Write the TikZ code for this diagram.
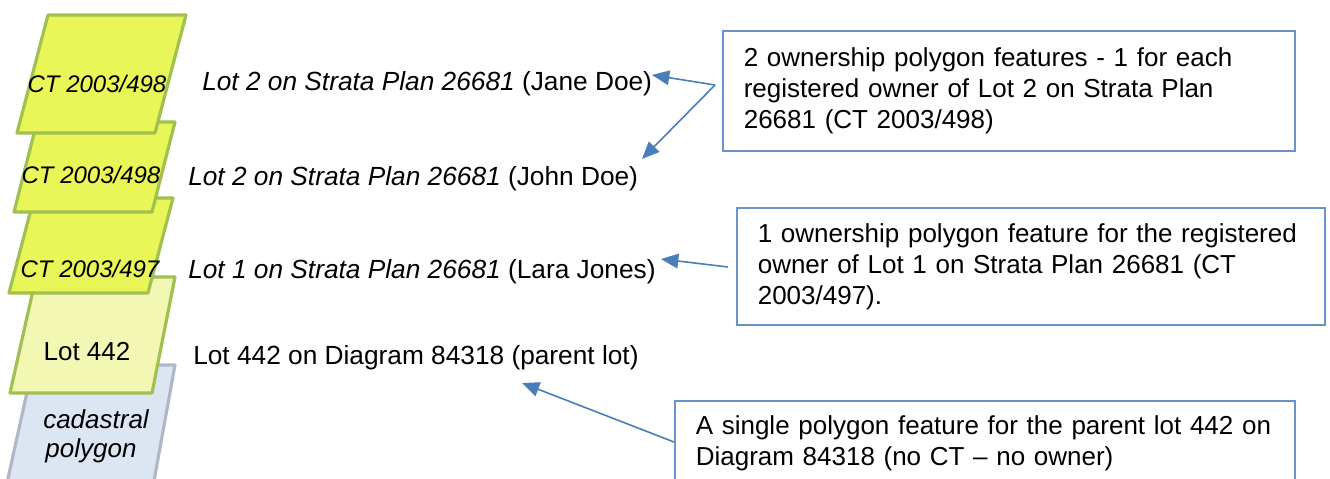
\documentclass[tikz,border=0pt]{standalone}
\usepackage{fontspec}
\setmainfont{Liberation Sans}
\usetikzlibrary{arrows.meta}
\definecolor{ctfill}{RGB}{232,246,88}
\definecolor{ctline}{RGB}{160,192,80}
\definecolor{lotfill}{RGB}{242,248,180}
\definecolor{cadfill}{RGB}{220,230,242}
\definecolor{cadline}{RGB}{176,184,200}
\definecolor{boxline}{RGB}{108,146,200}
\definecolor{arrowblue}{RGB}{74,126,187}
\tikzset{
  ctpoly/.style={fill=ctfill, draw=ctline, line width=2.4pt, line join=round},
  lotpoly/.style={fill=lotfill, draw=ctline, line width=2.4pt, line join=round},
  cadpoly/.style={fill=cadfill, draw=cadline, line width=2.4pt, line join=round},
  lbl/.style={font=\fontsize{19.7}{23.4}\selectfont, inner sep=0pt, anchor=base west},
  plbl/.style={font=\fontsize{18}{21.6}\selectfont\itshape, inner sep=0pt, anchor=base},
  infobox/.style={draw=boxline, line width=1.2pt, fill=white, anchor=north west,
     font=\fontsize{19.5}{23.25}\selectfont, align=left, inner xsep=15pt, inner ysep=0pt},
  pointer/.style={draw=arrowblue, line width=1.2pt, -{Triangle[length=13pt, width=11pt]}}
}
\begin{document}
\begin{tikzpicture}[x=0.75pt, y=-0.75pt]
\useasboundingbox (0,0) rectangle (1330,478);
\begin{scope}
\clip (0,0) rectangle (1330,478);
% polygons from bottom to top
\filldraw[cadpoly] (33,365) -- (175,365) -- (152,492) -- (5,492) -- cycle;
\filldraw[lotpoly] (36,277) -- (175,277) -- (152,393) -- (10,393) -- cycle;
\filldraw[ctpoly] (34,198) -- (173,198) -- (148,293) -- (9,293) -- cycle;
\filldraw[ctpoly] (37,122) -- (175,122) -- (152,212) -- (14,212) -- cycle;
\filldraw[ctpoly] (48,15) -- (186,15) -- (155,133) -- (17,133) -- cycle;

\node[plbl] (p1) at (97,92) {CT 2003/498};
\node[plbl] (p2) at (91,183) {CT 2003/498};
\node[plbl] (p3) at (90,277) {CT 2003/497};
\node[plbl, font=\fontsize{19.5}{23.4}\selectfont] (p4) at (87,360) {Lot 442};
\node[plbl, font=\fontsize{19.5}{23.4}\selectfont\itshape] (p5a) at (96,428) {cadastral};
\node[plbl, font=\fontsize{19.5}{23.4}\selectfont\itshape] (p5b) at (91,457) {polygon};

% labels
\node[lbl] (l1) at (202,90) {\textit{Lot 2 on Strata Plan 26681} (Jane Doe)};
\node[lbl] (l2) at (188,185) {\textit{Lot 2 on Strata Plan 26681} (John Doe)};
\node[lbl] (l3) at (188,278) {\textit{Lot 1 on Strata Plan 26681} (Lara Jones)};
\node[lbl] (l4) at (193,364) {Lot 442 on Diagram 84318 (parent lot)};

% info boxes
\node[infobox, minimum width=572*0.75pt, minimum height=120*0.75pt, text width=530*0.75pt] (b1) at (722,30)
  {2 ownership polygon features - 1 for each\\registered owner of Lot 2 on Strata Plan\\26681 (CT 2003/498)};
\node[infobox, minimum width=588*0.75pt, minimum height=117*0.75pt, text width=546*0.75pt] (b2) at (736,207)
  {1 ownership polygon feature for the registered\\owner of Lot 1 on Strata Plan 26681 (CT\\2003/497).};
\node[infobox, minimum width=620*0.75pt, minimum height=85*0.75pt, text width=578*0.75pt] (b3) at (674,400)
  {A single polygon feature for the parent lot 442 on\\Diagram 84318 (no CT -- no owner)};

% connector ends
\coordinate (s1) at (715,85);
\coordinate (t1) at (652,75);
\coordinate (t2) at (642,159);
\coordinate (s3) at (728,267);
\coordinate (t3) at (661,259);
\coordinate (s4) at (674,442);
\coordinate (t4) at (522,383);

\draw[pointer] (s1) -- (t1);
\draw[pointer] (s1) -- (t2);
\draw[pointer] (s3) -- (t3);
\draw[pointer] (s4) -- (t4);
\end{scope}
\end{tikzpicture}
\end{document}
